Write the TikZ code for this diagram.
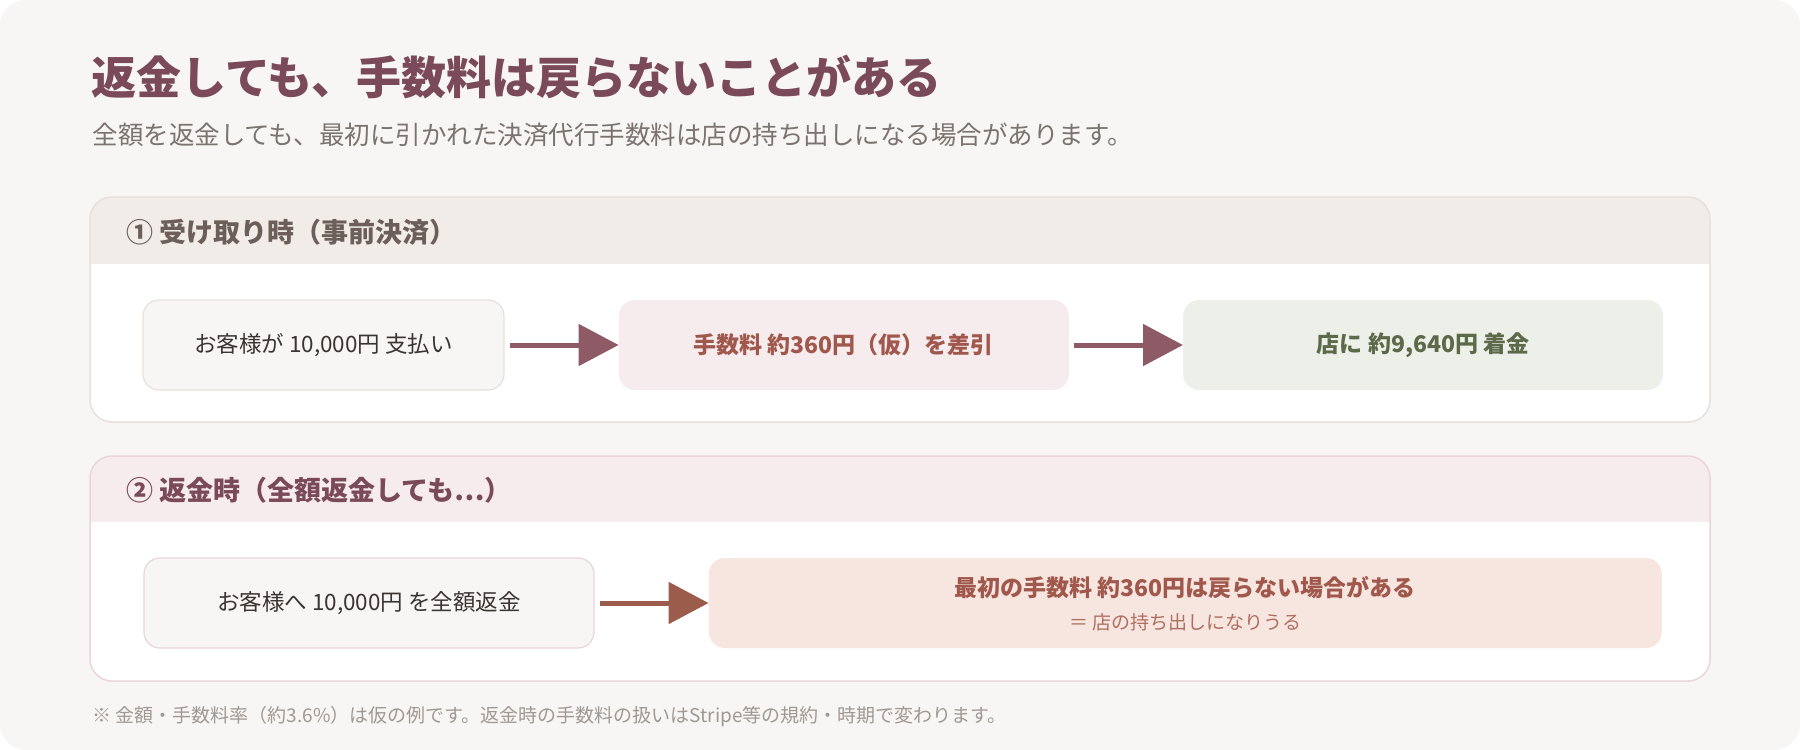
\documentclass[tikz,border=0pt]{standalone}
\usepackage{fontspec}
\setmainfont{Noto Sans CJK JP}
\usetikzlibrary{arrows.meta,positioning}

\definecolor{pagebg}{HTML}{F8F6F4}
\definecolor{plum}{HTML}{7A4A5A}
\definecolor{subgray}{HTML}{7B7370}
\definecolor{headgray}{HTML}{6C5F5A}
\definecolor{beigehd}{HTML}{F1ECE8}
\definecolor{beigeln}{HTML}{E8E1DB}
\definecolor{pinkhd}{HTML}{F6ECEE}
\definecolor{pinkln}{HTML}{E9D5DA}
\definecolor{inktext}{HTML}{3A3432}
\definecolor{rust}{HTML}{A0584C}
\definecolor{rustlt}{HTML}{B06E60}
\definecolor{mossbg}{HTML}{EDF0E8}
\definecolor{moss}{HTML}{5C6A4A}
\definecolor{peachbg}{HTML}{F7E6DF}
\definecolor{arrplum}{HTML}{8D5A66}
\definecolor{arrrust}{HTML}{9C5C4C}
\definecolor{notegray}{HTML}{A09893}

\begin{document}
\begin{tikzpicture}[x=1pt,y=-1pt,node distance=114pt,
  box/.style={rounded corners=16pt,minimum height=90pt,inner sep=0pt,align=center,font=\fontsize{22.5}{27}\selectfont},
  boldbox/.style={box,font=\fontsize{23}{27}\selectfont\bfseries},
  hd/.style={anchor=west,font=\fontsize{27}{31}\selectfont\bfseries},
  flow/.style={line width=5pt,-{Triangle[length=40pt,width=41pt]},shorten <=5pt}]
\useasboundingbox (0,0) rectangle (1800,750);
\fill[white] (0,0) rectangle (1800,750);
\fill[pagebg,rounded corners=26pt] (0,0) rectangle (1800,750);

% title
\node[anchor=west,text=plum,font=\fontsize{45}{50}\selectfont\bfseries] (t) at (88,77) {返金しても、手数料は戻らないことがある};
\node[anchor=west,text=subgray,font=\fontsize{25.5}{30}\selectfont] (s) at (89,135) {全額を返金しても、最初に引かれた決済代行手数料は店の持ち出しになる場合があります。};

% panel 1
\begin{scope}
\clip[rounded corners=22pt] (90,197) rectangle (1710,422);
\fill[white] (90,197) rectangle (1710,422);
\fill[beigehd] (90,197) rectangle (1710,264);
\end{scope}
\draw[beigeln,line width=1.5pt,rounded corners=22pt] (90,197) rectangle (1710,422);
\node[hd,text=headgray] (h1) at (123,232) {① 受け取り時（事前決済）};

\node[box,draw=beigeln,line width=1.2pt,fill=pagebg,minimum width=361pt,text=inktext] (a) at (323.5,345) {お客様が 10,000円 支払い};
\node[boldbox,fill=pinkhd,minimum width=450pt,text=rust,right=of a] (b) {手数料 約360円（仮）を差引};
\node[boldbox,fill=mossbg,minimum width=480pt,text=moss,right=of b] (c) {店に 約9,640円 着金};
\draw[flow,arrplum] (a)--(b);\draw[flow,arrplum] (b)--(c);

% panel 2
\begin{scope}
\clip[rounded corners=22pt] (90,456) rectangle (1710,681);
\fill[white] (90,456) rectangle (1710,681);
\fill[pinkhd] (90,456) rectangle (1710,522);
\end{scope}
\draw[pinkln,line width=1.5pt,rounded corners=22pt] (90,456) rectangle (1710,681);
\node[hd,text=plum] (h2) at (123,490) {② 返金時（全額返金しても⋯）};

\node[box,draw=pinkln,line width=1.2pt,fill=pagebg,minimum width=450pt,text=inktext] (d) at (369,603) {お客様へ 10,000円 を全額返金};
\node[box,fill=peachbg,minimum width=953pt,right=of d,text depth=0pt] (e) {{\fontsize{23}{27}\selectfont\bfseries\color{rust}最初の手数料 約360円は戻らない場合がある}\\[6pt]{\fontsize{19}{22}\selectfont\color{rustlt}＝ 店の持ち出しになりうる}};
\draw[flow,arrrust] (d)--(e);

% note
\node[anchor=west,text=notegray,font=\fontsize{19}{22}\selectfont] (n) at (89,717) {※ 金額・手数料率（約3.6\%）は仮の例です。返金時の手数料の扱いはStripe等の規約・時期で変わります。};
\end{tikzpicture}
\end{document}
